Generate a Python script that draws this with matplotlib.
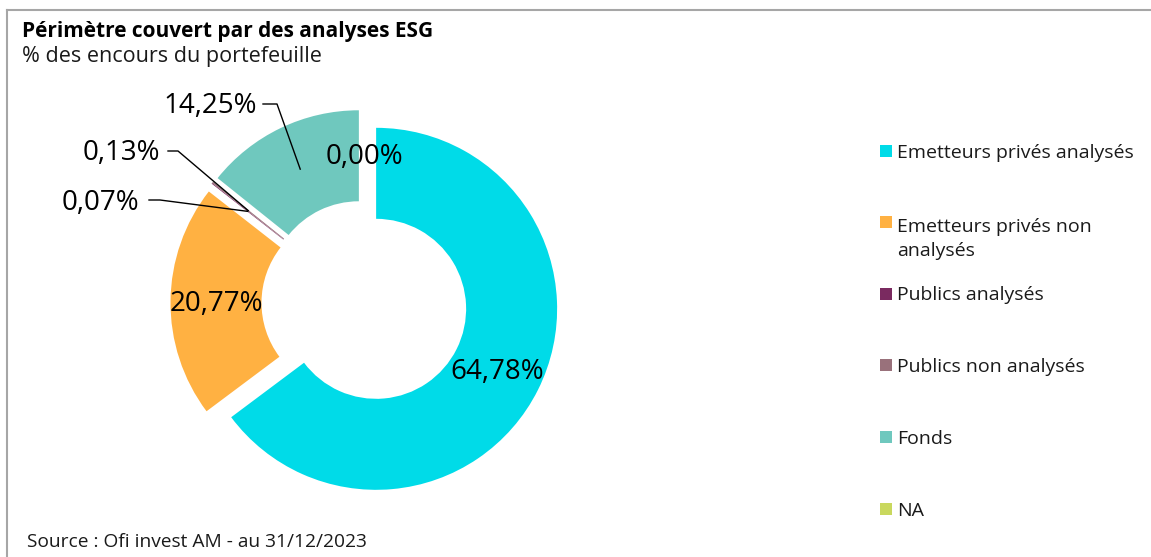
import matplotlib
matplotlib.use('Agg')
import matplotlib.pyplot as plt
import numpy as np
from matplotlib.patches import Rectangle
from matplotlib.lines import Line2D

categories = ["Emetteurs privés analysés", "Emetteurs privés non\nanalysés",
              "Publics analysés", "Publics non analysés", "Fonds", "NA"]
values = [64.78, 20.77, 0.07, 0.13, 14.25, 0.00]
value_labels = ["64,78%", "20,77%", "0,07%", "0,13%", "14,25%", "0,00%"]
colors = ["#00DBE8", "#FFB142", "#7A2A60", "#99717B", "#6FC8BE", "#C9D85E"]

title = "Périmètre couvert par des analyses ESG"
subtitle = "% des encours du portefeuille"
source = "Source : Ofi invest AM - au 31/12/2023"

plt.rcParams['font.family'] = ['Open Sans', 'DejaVu Sans']

W, H = 1151, 557
fig = plt.figure(figsize=(W / 100, H / 100), dpi=100)
ax = fig.add_axes([0, 0, 1, 1])


def Y(y):
    return H - y


R = 181
R_in = 90
cx, cy = 364.5, Y(303)
wedges, _ = ax.pie(values, colors=colors, startangle=90, counterclock=False,
                   radius=R, center=(cx, cy), explode=[13] * len(values),
                   wedgeprops=dict(width=R - R_in, linewidth=0), frame=True)
ax.set_xlim(0, W)
ax.set_ylim(0, H)
ax.set_aspect('equal')
ax.axis('off')

# label anchor positions (middle of ring, along bisector)
r_mid = (R + R_in) / 2
anchors = []
for w in wedges:
    th = np.deg2rad((w.theta1 + w.theta2) / 2)
    wx, wy = w.center
    anchors.append((wx + r_mid * np.cos(th), wy + r_mid * np.sin(th)))

label_fs = 20
outside = {2: ((100, 203), [(149, 200), (160, 200)]),
           3: ((121, 153), [(168, 151), (178, 151)]),
           4: ((210, 106), [(263, 104), (277, 104)])}
for i, lab in enumerate(value_labels):
    if i in outside:
        (tx, ty), pts = outside[i]
        ax.text(tx, Y(ty), lab, ha='center', va='center', fontsize=label_fs, color='black')
        xs = [p[0] for p in pts] + [anchors[i][0]]
        ys = [Y(p[1]) for p in pts] + [anchors[i][1]]
        ax.plot(xs, ys, color='black', lw=1)
    else:
        ax.text(anchors[i][0], anchors[i][1] - 2.5, lab, ha='center', va='center',
                fontsize=label_fs, color='black')

# legend
leg_y = [151, 222, 294, 365, 437, 509]
line_px = 28
for cat, col, yy in zip(categories, colors, leg_y):
    ax.add_patch(Rectangle((880, Y(yy + 6)), 12, 12, facecolor=col, edgecolor='none'))
    n = cat.count('\n')
    ax.text(897, Y(yy + 6.5 + n * line_px), cat, ha='left', va='baseline', fontsize=14,
            color='#1a1a1a', linespacing=1.45)

# texts
fig.text(22 / W, Y(37) / H, title, ha='left', va='baseline', fontsize=15,
         fontweight='bold', color='black')
fig.text(22 / W, Y(62) / H, subtitle, ha='left', va='baseline', fontsize=15.5,
         color='#1a1a1a')
fig.text(27 / W, Y(547) / H, source, ha='left', va='baseline', fontsize=13.8,
         color='#1a1a1a')

# frame lines
fig.add_artist(Line2D([7 / W, 1], [Y(10) / H, Y(10) / H], color='#a6a6a6', lw=1.5))
fig.add_artist(Line2D([7.5 / W, 7.5 / W], [0, Y(10) / H], color='#a6a6a6', lw=1.5))

fig.savefig('out.png', dpi=100)
